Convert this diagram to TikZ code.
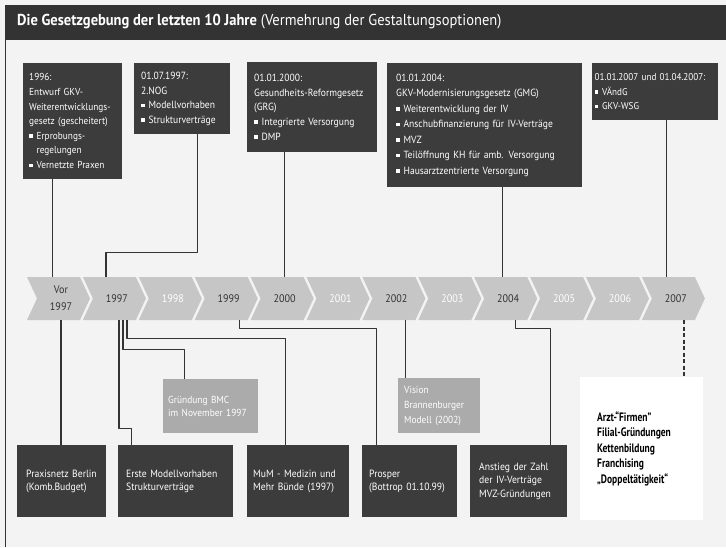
\documentclass[tikz,border=0pt]{standalone}
\usepackage{fontspec}
\setmainfont{PT Sans}[FakeStretch=0.92]
\newfontfamily\notefont{PT Sans}[FakeStretch=0.78]
\definecolor{boxdark}{HTML}{3C3C3C}
\definecolor{boxlight}{HTML}{ABABAB}
\definecolor{arrowgray}{HTML}{C6C6C6}
\definecolor{paper}{HTML}{F3F3F3}
\newcommand{\sq}{\rule[1.4pt]{3.6pt}{3.6pt}\hspace{3.8pt}}
\newcommand{\sqin}{\hspace{7.4pt}}
\tikzset{
  topbox/.style={fill=boxdark, text=white, anchor=north west, align=left,
    font=\fontsize{10.4}{14.6}\selectfont, inner xsep=7pt, inner ysep=0pt},
  botbox/.style={fill=boxdark, text=white, anchor=north west, align=left,
    font=\fontsize{10.5}{13.5}\selectfont, inner xsep=9pt, inner ysep=0pt},
  lightbox/.style={botbox, fill=boxlight},
  year/.style={minimum width=53pt, minimum height=43pt, inner sep=0pt,
    font=\fontsize{11}{17}\selectfont, align=center},
  link/.style={draw=black!80, line width=1.2pt},
}
\begin{document}
\begin{tikzpicture}[x=1pt, y=-1pt, line join=round]
  \useasboundingbox (0,0) rectangle (726,547);
  \fill[paper] (0,0) rectangle (726,547);
  \fill[black!80] (5,5) rectangle (726,40);
  \draw[black!80, line width=1pt] (5.5,5) -- (5.5,547);
  \node[anchor=west, text=white, inner sep=0pt, font=\fontsize{15.8}{18}\selectfont] (title) at (17,22)
    {\textbf{Die Gesetzgebung der letzten 10 Jahre} (Vermehrung der Gestaltungsoptionen)};

  % Gesetze oben
  \node[topbox, text width=87pt, minimum height=116pt, inner xsep=6pt, font=\fontsize{10.1}{14.6}\selectfont] (b96) at (23,63)
    {1996:\\Entwurf GKV-\\Weiterentwicklungs-\\gesetz (gescheitert)\\\sq Erprobungs-\\\sqin regelungen\\\sq Vernetzte Praxen};
  \node[topbox, text width=82pt, minimum height=71pt, inner xsep=7pt] (b97) at (134,63)
    {01.07.1997:\\2.NOG\\\sq Modellvorhaben\\\sq Strukturverträge};
  \node[topbox, text width=116pt, minimum height=90pt] (b00) at (247,62)
    {01.01.2000:\\Gesundheits-Reformgesetz\\(GRG)\\\sq Integrierte Versorgung\\\sq DMP};
  \node[topbox, text width=177pt, minimum height=124pt, inner xsep=9pt, font=\fontsize{10.4}{15.5}\selectfont] (b04) at (387,63)
    {01.01.2004:\\GKV-Modernisierungsgesetz (GMG)\\\sq Weiterentwicklung der IV\\\sq Anschubfinanzierung für IV-Verträge\\\sq MVZ\\\sq Teilöffnung KH für amb. Versorgung\\\sq Hausarztzentrierte Versorgung};
  \node[topbox, text width=121pt, minimum height=57pt, inner xsep=2.5pt, font=\fontsize{9.9}{14.6}\selectfont] (b07) at (592,63)
    {01.01.2007 und 01.04.2007:\\\sq VÄndG\\\sq GKV-WSG};

  % Zeitstrahl
  \foreach \lbl/\col [count=\i from 0] in {{Vor\\1997}/black!80, 1997/black!80, 1998/white,
      1999/black!80, 2000/black!80, 2001/white, 2002/black!80, 2003/white, 2004/black!80,
      2005/white, 2006/white, 2007/black!80}{
    \pgfmathsetmacro\xa{27+55.9*\i}
    \fill[arrowgray] (\xa,277) -- ++(53,0) -- ++(10,21.5) -- ++(-10,21.5) -- ++(-53,0) -- ++(10,-21.5) -- cycle;
    \node[year, text=\col] (y\i) at (\xa+34,298.5) {\lbl};
  }

  % Entwicklungen unten
  \node[botbox, text width=71pt, minimum height=72pt] (bPN) at (17,445) {Praxisnetz Berlin\\(Komb.Budget)};
  \node[botbox, text width=99pt, minimum height=72pt, inner xsep=8pt] (bEM) at (118,445) {Erste Modellvorhaben\\Strukturverträge};
  \node[botbox, text width=90pt, minimum height=72pt, inner xsep=6pt] (bMuM) at (247,445) {MuM - Medizin und\\Mehr Bünde (1997)};
  \node[botbox, text width=81pt, minimum height=72pt, inner xsep=7pt] (bPro) at (362,445) {Prosper\\(Bottrop 01.10.99)};
  \node[botbox, text width=79pt, minimum height=72pt] (bAn) at (470,445) {Anstieg der Zahl\\der IV-Verträge\\MVZ-Gründungen};
  \node[lightbox, text width=85pt, minimum height=54pt, inner xsep=5pt, font=\fontsize{10.2}{13.5}\selectfont] (gBMC) at (163,379) {Gründung BMC\\im November 1997};
  \node[lightbox, text width=70pt, minimum height=55pt, inner xsep=6pt, font=\fontsize{10.2}{15}\selectfont] (vis) at (398,378) {Vision\\Brannenburger\\Modell (2002)};
  \node[fill=white, anchor=north west, align=left, text width=89pt, minimum height=143pt,
    inner xsep=17pt, inner ysep=0pt, font=\notefont\bfseries\fontsize{12.2}{15.5}\selectfont] (note) at (580,377)
    {Arzt-“Firmen”\\Filial-Gründungen\\Kettenbildung\\Franchising\\„Doppeltätigkeit“};

  % Verbindungen oben
  \draw[link] (b96.south) ++(-20.5,0) coordinate (k1) -- (k1 |- y0.north);
  \draw[link] (b97.south) ++(15,0) -- ++(0,118) -| ([xshift=-11pt]y1.north);
  \draw[link] (y4.north) -- (y4.north |- b00.south);
  \draw[link] (b04.south) ++(17.5,0) coordinate (k4) -- (k4 |- y8.north);
  \draw[link] (b07.south) ++(11,0) coordinate (k5) -- (k5 |- y11.north);
  % Verbindungen unten
  \draw[link] (y0.south) -- (y0.south |- bPN.north);
  \draw[link] (y1.south) ++(10,0) -- ++(0,18) -| ([xshift=-13pt]bMuM.north);
  \draw[link] (y1.south) ++(6,0) -- ++(0,29) -| ([xshift=-26.5pt]gBMC.north);
  \draw[link] (y1.south) ++(2,0) -- ++(0,108) -| ([xshift=-44.5pt]bEM.north);
  \draw[link] (y3.south) ++(11,0) -- ++(0,8) -| ([xshift=-33.5pt]bPro.north);
  \draw[link] (y6.south) ++(9,0) coordinate (k11) -- (k11 |- vis.north);
  \draw[link] (y8.south) ++(7,0) -- ++(0,8) -| ([xshift=31.5pt]bAn.north);
  \draw[link, dash pattern=on 4pt off 2.5pt] (y11.south) ++(8,0) coordinate (k13) -- (k13 |- note.north);
\end{tikzpicture}
\end{document}
